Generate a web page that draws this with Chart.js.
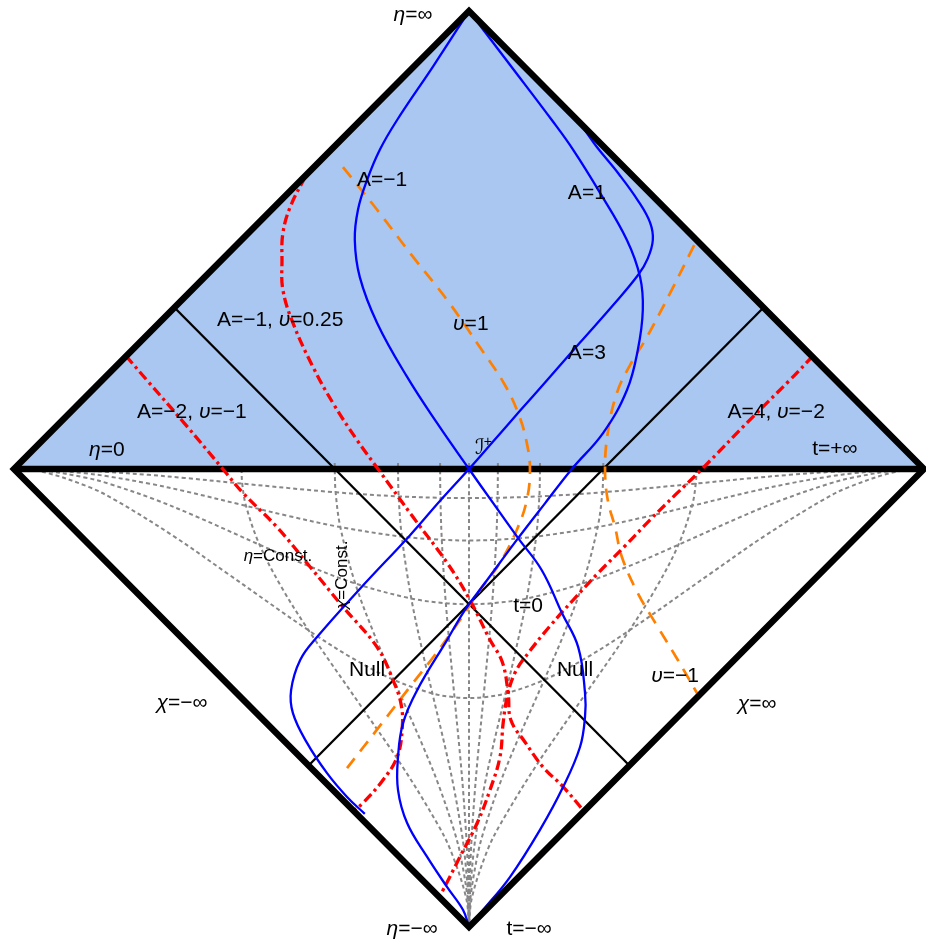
<!DOCTYPE html>
<html><head><meta charset="utf-8">
<script src="https://cdn.jsdelivr.net/npm/chart.js@4.4.1/dist/chart.umd.min.js"></script>
<style>html,body{margin:0;padding:0;background:#fff;}#wrap{width:926px;height:944px;}</style>
</head><body><div id="wrap"><canvas id="c" width="926" height="944"></canvas></div>
<script>
// ---- Penrose-diagram coordinates (diamond |x|+|y| = 1) ----
const fillTriangle = [[-1,0],[0,1],[1,0]];
const diamond = [[-0.5,0.5],[0,1],[1,0],[0,-1],[-1,0],[-0.5,0.5]];
const horizon = [[-1,0],[1,0]];
const nullLineA = [[-0.6475,0.3525],[0.3525,-0.6475]];
const nullLineB = [[0.6475,0.3525],[-0.3525,-0.6475]];

// eta = const (gray dotted)
const etaM01 = [[-1,0],[-0.9363,-0.0006],[-0.844,-0.0038],[-0.7949,-0.0064],[-0.7043,-0.0128],[-0.6248,-0.0196],[-0.4984,-0.0319],[-0.2931,-0.0509],[-0.1546,-0.0598],[-0.0628,-0.0628],[0,-0.0635],[0.0628,-0.0628],[0.1546,-0.0598],[0.2931,-0.0509],[0.4984,-0.0319],[0.6248,-0.0196],[0.7043,-0.0128],[0.7949,-0.0064],[0.844,-0.0038],[0.9363,-0.0006],[1,0]];
const etaM025 = [[-1,0],[-0.9363,-0.0016],[-0.8435,-0.0094],[-0.794,-0.016],[-0.7016,-0.0321],[-0.62,-0.0495],[-0.4901,-0.0804],[-0.3976,-0.1024],[-0.2828,-0.1268],[-0.1476,-0.1476],[-0.0598,-0.1546],[0,-0.156],[0.0598,-0.1546],[0.1476,-0.1476],[0.2828,-0.1268],[0.3976,-0.1024],[0.4901,-0.0804],[0.62,-0.0495],[0.7016,-0.0321],[0.794,-0.016],[0.8435,-0.0094],[0.9363,-0.0016],[1,0]];
const etaM05 = [[-1,0],[-0.9364,-0.0032],[-0.8418,-0.019],[-0.7903,-0.0325],[-0.6917,-0.0661],[-0.6024,-0.1024],[-0.4604,-0.1653],[-0.3632,-0.2073],[-0.25,-0.25],[-0.1268,-0.2828],[-0.0509,-0.2931],[0,-0.2951],[0.0509,-0.2931],[0.1268,-0.2828],[0.25,-0.25],[0.3632,-0.2073],[0.4604,-0.1653],[0.6024,-0.1024],[0.6917,-0.0661],[0.7903,-0.0325],[0.8418,-0.019],[0.9364,-0.0032],[1,0]];
const etaM1 = [[-1,0],[-0.9359,-0.0064],[-0.8347,-0.0396],[-0.7744,-0.0696],[-0.6476,-0.1476],[-0.5265,-0.2313],[-0.3524,-0.3524],[-0.2568,-0.4128],[-0.1653,-0.4604],[-0.0804,-0.4901],[-0.0319,-0.4984],[0,-0.5],[0.0319,-0.4984],[0.0804,-0.4901],[0.1653,-0.4604],[0.2568,-0.4128],[0.3524,-0.3524],[0.5265,-0.2313],[0.6476,-0.1476],[0.7744,-0.0696],[0.8347,-0.0396],[0.9359,-0.0064],[1,0]];

// chi = const (gray dotted)
const chi0 = [[0,0.013],[0,-1]];
const chiP01 = [[0.0635,0.013],[0.0635,0],[0.0628,-0.0628],[0.0598,-0.1546],[0.0509,-0.2931],[0.0319,-0.4984],[0.0196,-0.6248],[0.0128,-0.7043],[0.0064,-0.7949],[0.0038,-0.844],[0.0006,-0.9363],[0,-1]];
const chiM01 = [[-0.0635,0.013],[-0.0635,0],[-0.0628,-0.0628],[-0.0598,-0.1546],[-0.0509,-0.2931],[-0.0319,-0.4984],[-0.0196,-0.6248],[-0.0128,-0.7043],[-0.0064,-0.7949],[-0.0038,-0.844],[-0.0006,-0.9363],[0,-1]];
const chiP025 = [[0.156,0.013],[0.156,0],[0.1546,-0.0598],[0.1476,-0.1476],[0.1268,-0.2828],[0.1024,-0.3976],[0.0804,-0.4901],[0.0495,-0.62],[0.0321,-0.7016],[0.016,-0.794],[0.0094,-0.8435],[0.0016,-0.9363],[0,-1]];
const chiM025 = [[-0.156,0.013],[-0.156,0],[-0.1546,-0.0598],[-0.1476,-0.1476],[-0.1268,-0.2828],[-0.1024,-0.3976],[-0.0804,-0.4901],[-0.0495,-0.62],[-0.0321,-0.7016],[-0.016,-0.794],[-0.0094,-0.8435],[-0.0016,-0.9363],[0,-1]];
const chiP05 = [[0.2951,0.013],[0.2951,0],[0.2931,-0.0509],[0.2828,-0.1268],[0.25,-0.25],[0.2073,-0.3632],[0.1653,-0.4604],[0.1024,-0.6024],[0.0661,-0.6917],[0.0325,-0.7903],[0.019,-0.8418],[0.0032,-0.9364],[0,-1]];
const chiM05 = [[-0.2951,0.013],[-0.2951,0],[-0.2931,-0.0509],[-0.2828,-0.1268],[-0.25,-0.25],[-0.2073,-0.3632],[-0.1653,-0.4604],[-0.1024,-0.6024],[-0.0661,-0.6917],[-0.0325,-0.7903],[-0.019,-0.8418],[-0.0032,-0.9364],[0,-1]];
const chiP1 = [[0.5,0],[0.4984,-0.0319],[0.4901,-0.0804],[0.4604,-0.1653],[0.4128,-0.2568],[0.3524,-0.3524],[0.2313,-0.5265],[0.1476,-0.6476],[0.0696,-0.7744],[0.0396,-0.8347],[0.0064,-0.9359],[0,-1]];
const chiM1 = [[-0.5,0],[-0.4984,-0.0319],[-0.4901,-0.0804],[-0.4604,-0.1653],[-0.4128,-0.2568],[-0.3524,-0.3524],[-0.2313,-0.5265],[-0.1476,-0.6476],[-0.0696,-0.7744],[-0.0396,-0.8347],[-0.0064,-0.9359],[0,-1]];

// blue trajectories
const blueAm1 = [[0,1],[-0.077,0.882],[-0.158,0.762],[-0.196,0.697],[-0.224,0.631],[-0.244,0.566],[-0.251,0.5],[-0.240,0.419],[-0.202,0.319],[-0.136,0.201],[-0.070,0.100],[0,0],[0.052,-0.073],[0.108,-0.151],[0.160,-0.221],[0.204,-0.314],[0.240,-0.389],[0.255,-0.489],[0.255,-0.541],[0.244,-0.607],[0.207,-0.694],[0.156,-0.788],[0.090,-0.891],[0.031,-0.963],[0,-1]];
const blueA1 = [[0,1],[0.092,0.880],[0.182,0.762],[0.229,0.697],[0.288,0.603],[0.347,0.5],[0.376,0.419],[0.382,0.347],[0.371,0.260],[0.347,0.172],[0.295,0.079],[0.226,0],[0.167,-0.075],[0.108,-0.151],[0.035,-0.249],[-0.009,-0.308],[-0.048,-0.373],[-0.114,-0.483],[-0.145,-0.555],[-0.156,-0.629],[-0.156,-0.701],[-0.136,-0.773],[-0.092,-0.847],[-0.048,-0.913],[-0.013,-0.963],[0,-1]];
const blueA3 = [[0,1],[0.1,0.9],[0.2,0.8],[0.245,0.752],[0.281,0.703],[0.330,0.643],[0.372,0.585],[0.398,0.538],[0.404,0.5],[0.393,0.460],[0.372,0.424],[0.316,0.357],[0.244,0.276],[0.171,0.193],[0.112,0.127],[0.053,0.060],[0,0],[-0.064,-0.070],[-0.130,-0.145],[-0.240,-0.262],[-0.334,-0.367],[-0.371,-0.417],[-0.391,-0.483],[-0.387,-0.533],[-0.356,-0.598],[-0.312,-0.664],[-0.268,-0.716],[-0.229,-0.753]];

// red dash-dot trajectories
const redAm2 = [[-0.754,0.247],[-0.708,0.194],[-0.624,0.098],[-0.541,0],[-0.497,-0.052],[-0.422,-0.127],[-0.349,-0.214],[-0.277,-0.301],[-0.202,-0.389],[-0.167,-0.461],[-0.149,-0.515],[-0.147,-0.570],[-0.158,-0.629],[-0.189,-0.679],[-0.233,-0.729],[-0.257,-0.749]];
const redAm1 = [[-0.360,0.638],[-0.393,0.572],[-0.409,0.515],[-0.411,0.456],[-0.409,0.391],[-0.387,0.319],[-0.343,0.223],[-0.299,0.144],[-0.246,0.063],[-0.2,0],[-0.123,-0.105],[-0.048,-0.205],[0.002,-0.286],[0.046,-0.373],[0.073,-0.421],[0.086,-0.489],[0.092,-0.548],[0.123,-0.596],[0.163,-0.651],[0.207,-0.694],[0.251,-0.745]];
const redA4 = [[0.756,0.247],[0.705,0.194],[0.624,0.114],[0.512,0],[0.455,-0.055],[0.398,-0.111],[0.343,-0.168],[0.284,-0.227],[0.229,-0.286],[0.178,-0.343],[0.134,-0.397],[0.101,-0.445],[0.084,-0.498],[0.075,-0.555],[0.068,-0.629],[0.046,-0.701],[0.018,-0.773],[-0.020,-0.847],[-0.057,-0.919],[-0.068,-0.937]];

// orange dashed
const orangeU1 = [[-0.277,0.659],[-0.202,0.566],[-0.123,0.463],[-0.048,0.369],[0.024,0.266],[0.078,0.185],[0.110,0.117],[0.127,0.057],[0.134,0],[0.127,-0.068],[0.105,-0.133],[0.068,-0.205],[0.024,-0.264],[-0.020,-0.330],[-0.075,-0.406],[-0.130,-0.476],[-0.196,-0.561],[-0.268,-0.653]];
const orangeUm1 = [[0.495,0.489],[0.442,0.384],[0.391,0.288],[0.354,0.227],[0.325,0.166],[0.305,0.079],[0.299,0],[0.305,-0.068],[0.321,-0.127],[0.336,-0.192],[0.371,-0.271],[0.415,-0.345],[0.459,-0.417],[0.501,-0.489]];

// labels
const labelTexts = ['η=∞','A=−1','A=1','A=−1, υ=0.25','υ=1','A=3','A=−2, υ=−1','A=4, υ=−2','η=0','t=+∞','t=0','Null','Null','υ=−1','χ=−∞','χ=∞','η=−∞','t=−∞','η=Const.'];
const labelX = [-0.123,-0.191,0.259,-0.415,0.004,0.259,-0.609,0.675,-0.796,0.804,0.130,-0.224,0.233,0.453,-0.631,0.633,-0.125,0.132,-0.420];
const labelY = [0.991,0.631,0.603,0.325,0.317,0.253,0.124,0.124,0.041,0.044,-0.299,-0.439,-0.439,-0.452,-0.511,-0.513,-1.004,-1.004,-0.190];
const labelSize = [21,21,21,21,21,21,21,21,21,21,21,21,21,21,21,21,21,21,17];
const rotatedLabel = {text:'χ=Const.', x:-0.279, y:-0.231, size:17};
const scriLabel = {x:0.033, y:0.046};

const toXY = a => a.map(p => ({x:p[0], y:p[1]}));
function line(points, o) {
  return Object.assign({data: toXY(points), showLine:true, pointRadius:0, pointHoverRadius:0,
    fill:false, clip:false, tension:0.4, borderCapStyle:'butt', borderJoinStyle:'round'}, o);
}
const GRAY = {borderColor:'#878787', borderWidth:2, borderDash:[4,3], order:90, tension:0.35};
const BLUE = {borderColor:'#0000ff', borderWidth:2.3, order:40, tension:0.4};
const RED = {borderColor:'#ff0000', borderWidth:3.3, borderDash:[10,4,3,4], order:50, tension:0.4};
const ORANGE = {borderColor:'#ff8000', borderWidth:2.7, borderDash:[13,9], order:60, tension:0.4};

const datasets = [
  line(fillTriangle, {fill:'origin', backgroundColor:'rgb(169,199,240)', borderWidth:0, borderColor:'rgba(0,0,0,0)', tension:0, order:100}),
  ...[etaM01, etaM025, etaM05, etaM1, chi0, chiP01, chiM01, chiP025, chiM025, chiP05, chiM05, chiP1, chiM1].map(d => line(d, GRAY)),
  line(horizon, {borderColor:'#000', borderWidth:6.5, tension:0, order:80}),
  line(nullLineA, {borderColor:'#000', borderWidth:2.3, tension:0, order:70}),
  line(nullLineB, {borderColor:'#000', borderWidth:2.3, tension:0, order:70}),
  line(orangeU1, ORANGE), line(orangeUm1, ORANGE),
  line(redAm2, RED), line(redAm1, RED), line(redA4, RED),
  line(blueAm1, BLUE), line(blueA1, BLUE), line(blueA3, BLUE),
  line(diamond, {borderColor:'#000', borderWidth:6.5, tension:0, borderJoinStyle:'miter', order:0})
];

const FAMILY = "'Liberation Sans', Arial, sans-serif";
function drawRich(ctx, text, cx, cy, size) {
  const runs = [];
  for (const ch of text) {
    const it = 'ηχυ'.includes(ch);
    if (runs.length && runs[runs.length-1].it === it) runs[runs.length-1].t += ch;
    else runs.push({t:ch, it});
  }
  let w = 0;
  runs.forEach(r => { ctx.font = (r.it ? 'italic ' : '') + size + 'px ' + FAMILY; r.w = ctx.measureText(r.t).width; w += r.w; });
  let x = cx - w/2;
  ctx.textAlign = 'left'; ctx.textBaseline = 'middle';
  runs.forEach(r => { ctx.font = (r.it ? 'italic ' : '') + size + 'px ' + FAMILY; ctx.fillText(r.t, x, cy); x += r.w; });
}
const textPlugin = {
  id:'texts',
  afterDatasetsDraw(chart) {
    const {ctx, scales:{x, y}} = chart;
    ctx.save(); ctx.fillStyle = '#000';
    labelTexts.forEach((t,i) => drawRich(ctx, t, x.getPixelForValue(labelX[i]), y.getPixelForValue(labelY[i]), labelSize[i]));
    ctx.save();
    ctx.translate(x.getPixelForValue(rotatedLabel.x), y.getPixelForValue(rotatedLabel.y));
    ctx.rotate(-Math.PI/2);
    drawRich(ctx, rotatedLabel.text, 0, 0, rotatedLabel.size);
    ctx.restore();
    const sx = x.getPixelForValue(scriLabel.x), sy = y.getPixelForValue(scriLabel.y);
    ctx.textBaseline = 'middle'; ctx.textAlign = 'left';
    ctx.font = "italic 21px 'DejaVu Serif', 'DejaVu Sans', serif";
    const w1 = ctx.measureText('ℐ').width;
    ctx.font = "14px " + FAMILY;
    const w2 = ctx.measureText('+').width;
    const x0 = sx - (w1 + w2)/2;
    ctx.font = "italic 21px 'DejaVu Serif', 'DejaVu Sans', serif";
    ctx.fillText('ℐ', x0, sy + 1);
    ctx.font = "14px " + FAMILY;
    ctx.fillText('+', x0 + w1 - 1, sy - 6);
    ctx.restore();
  }
};

new Chart(document.getElementById('c'), {
  type:'scatter',
  data:{datasets},
  options:{
    responsive:false, animation:false, events:[],
    layout:{padding:{left:14, right:2, top:11, bottom:17}},
    scales:{
      x:{type:'linear', min:-1, max:1, display:false},
      y:{type:'linear', min:-1, max:1, display:false}
    },
    plugins:{legend:{display:false}, tooltip:{enabled:false}}
  },
  plugins:[textPlugin]
});
</script></body></html>
